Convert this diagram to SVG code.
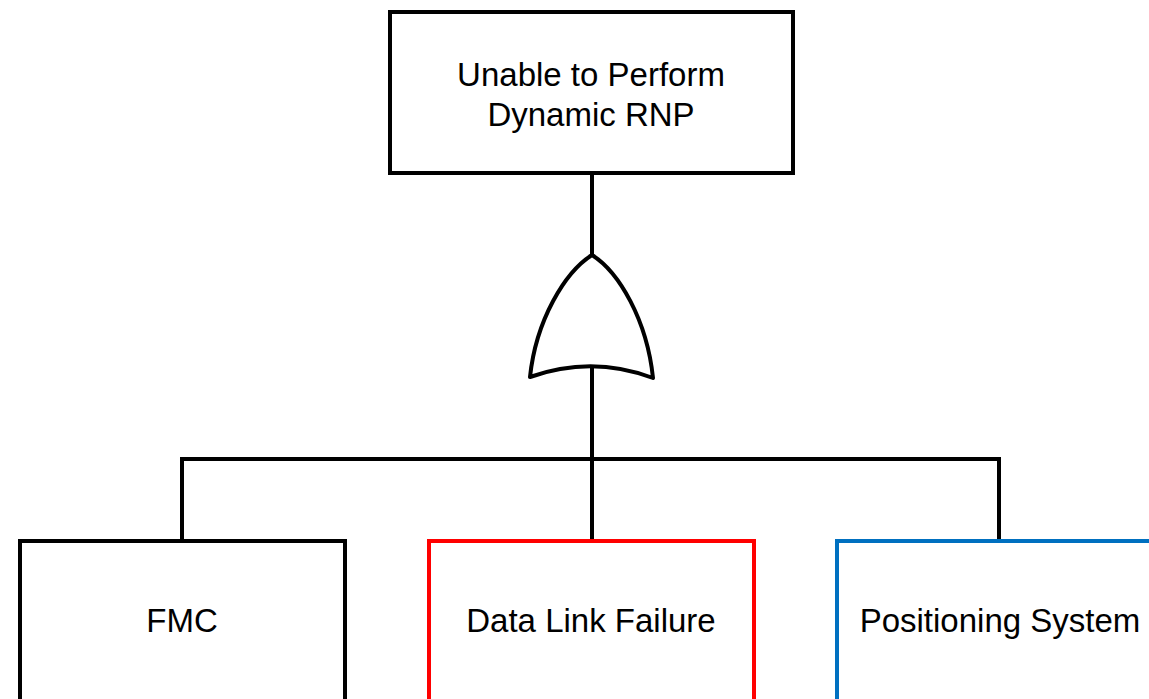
<svg xmlns="http://www.w3.org/2000/svg" width="1149" height="699" viewBox="0 0 1149 699">
  <style>
    .box { fill: #ffffff; stroke-width: 4; stroke-linejoin: miter; }
    .blk { stroke: #000000; }
    .red { stroke: #ff0000; }
    .blue { stroke: #0070c0; }
    .wire { fill: none; stroke: #000000; stroke-width: 4; stroke-linecap: square; }
    .gate { fill: #ffffff; stroke: #000000; stroke-width: 4; stroke-linejoin: round; }
    .lbl { font-family: "Liberation Sans", Arial, sans-serif; font-size: 33px; fill: #000000; text-anchor: middle; }
  </style>
  <rect width="1149" height="699" fill="#ffffff"/>

  <g id="connectors">
    <path class="wire" d="M592,174 V255"/>
    <path class="wire" d="M592,366 V459"/>
    <path class="wire" d="M182,541 V459 H999 V541"/>
    <path class="wire" d="M592,459 V541"/>
  </g>

  <g id="top-event">
    <rect class="box blk" x="390" y="12" width="403" height="161"/>
    <text class="lbl" x="591" y="86">Unable to Perform</text>
    <text class="lbl" x="591" y="126">Dynamic RNP</text>
  </g>

  <g id="or-gate">
    <path class="gate" d="M592,255 C565,272 536,320 530,377 Q592,355 653,378 C647,320 619,272 592,255 Z"/>
  </g>

  <g id="fmc">
    <rect class="box blk" x="20" y="541" width="325" height="200"/>
    <text class="lbl" x="182" y="632">FMC</text>
  </g>

  <g id="data-link">
    <rect class="box red" x="429" y="541" width="325" height="200"/>
    <text class="lbl" x="591" y="632">Data Link Failure</text>
  </g>

  <g id="positioning">
    <rect class="box blue" x="837" y="541" width="325" height="200"/>
    <text class="lbl" x="1000" y="632">Positioning System</text>
  </g>
</svg>
